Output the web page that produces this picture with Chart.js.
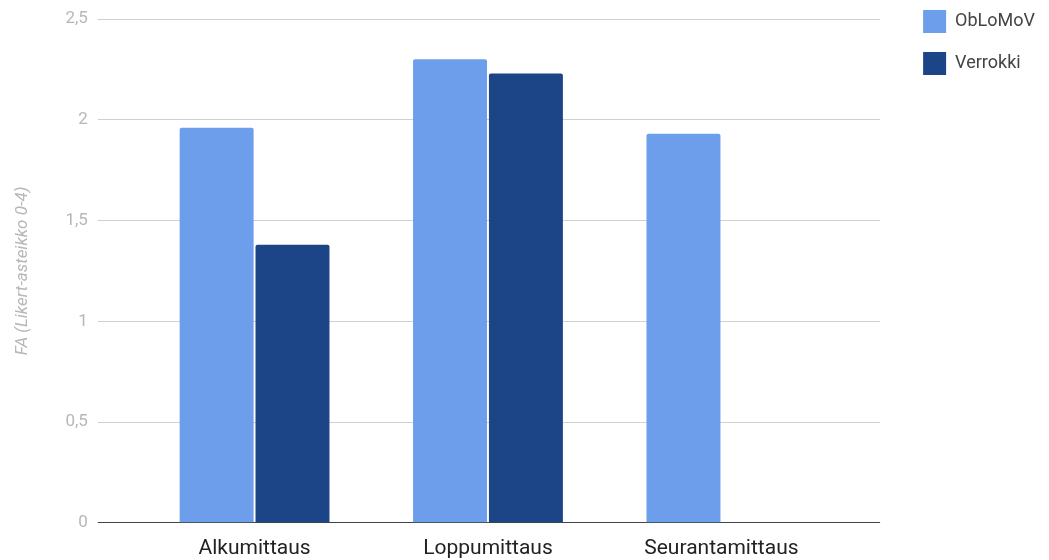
<!DOCTYPE html>
<html>
<head>
<meta charset="utf-8">
<script src="https://cdn.jsdelivr.net/npm/chart.js@4/dist/chart.umd.min.js"></script>
<style>
  html, body { margin: 0; padding: 0; background: #fff; }
  #wrap { width: 1049px; height: 560px; }
</style>
</head>
<body>
<div id="wrap"><canvas id="chart" width="1049" height="560"></canvas></div>
<script>
// Mittauskerrat ja sarjat
const categories = ['Alkumittaus', 'Loppumittaus', 'Seurantamittaus'];
const oblomovValues = [1.96, 2.30, 1.93];
const verrokkiValues = [1.38, 2.23, null];
const yTicks = [0, 0.5, 1, 1.5, 2, 2.5];
const yTitle = 'FA (Likert-asteikko 0-4)';

// nollaviiva tummempi
const gridColor = ctx => (ctx.tick && ctx.tick.value === 0) ? '#444444' : '#d0d0d0';

new Chart(document.getElementById('chart').getContext('2d'), {
    type: 'bar',
    data: {
        labels: categories,
        datasets: [
            {
                label: 'ObLoMoV',
                data: oblomovValues,
                backgroundColor: '#6d9eeb',
                borderRadius: 2,
                borderSkipped: 'bottom'
            },
            {
                label: 'Verrokki',
                data: verrokkiValues,
                backgroundColor: '#1c4587',
                borderRadius: 2,
                borderSkipped: 'bottom'
            }
        ]
    },
    options: {
        responsive: false,
        animation: false,
        datasets: {
            bar: { categoryPercentage: 0.65, barPercentage: 0.975 }
        },
        layout: { padding: { top: -9, left: 13, right: 4, bottom: -14 } },
        plugins: {
            tooltip: { enabled: false },
            legend: {
                position: 'right',
                align: 'start',
                labels: {
                    boxWidth: 23,
                    boxHeight: 23,
                    padding: 19,
                    color: '#444444',
                    font: { family: 'Roboto', size: 18 }
                }
            }
        },
        scales: {
            x: {
                grid: { display: false, drawTicks: false },
                border: { display: false },
                ticks: {
                    color: '#222222',
                    padding: 13,
                    font: { family: 'Roboto', size: 21 }
                }
            },
            y: {
                min: 0,
                max: 2.5,
                afterBuildTicks: axis => { axis.ticks = yTicks.map(v => ({ value: v })); },
                // tilaa kaavion yläpuolelle, selite pysyy ylhäällä
                afterFit: axis => { axis.paddingTop = 19; },
                grid: { color: gridColor, tickLength: 40, drawTicks: true },
                border: { display: false },
                ticks: {
                    color: '#b7b7b7',
                    padding: 10,
                    font: { family: 'Roboto', size: 17 },
                    callback: v => String(v).replace('.', ',')
                },
                title: {
                    display: true,
                    text: yTitle,
                    color: '#b7b7b7',
                    padding: { top: 0, bottom: 22 },
                    font: { family: 'Roboto', size: 17, style: 'italic' }
                }
            },
            y2: {
                position: 'right',
                min: 0,
                max: 2.5,
                afterBuildTicks: axis => { axis.ticks = yTicks.map(v => ({ value: v })); },
                afterFit: axis => { axis.width = 66; },
                grid: { color: gridColor, tickLength: 42, drawTicks: true, drawOnChartArea: false },
                border: { display: false },
                ticks: { display: false }
            }
        }
    }
});
</script>
</body>
</html>
